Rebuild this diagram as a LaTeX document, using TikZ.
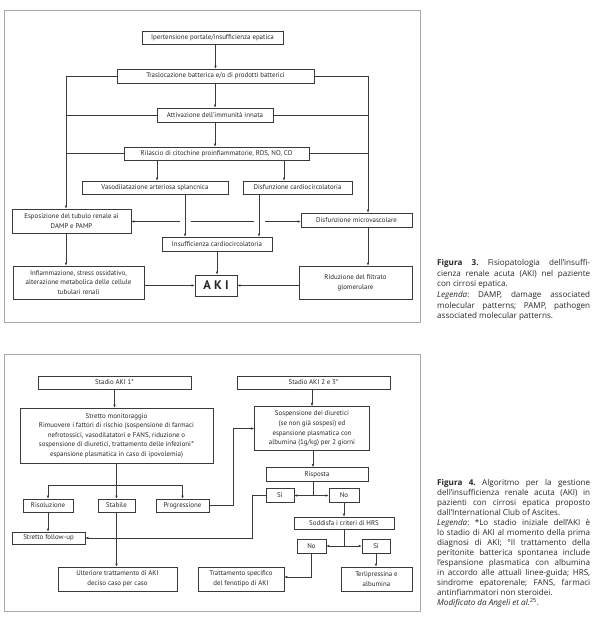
\documentclass[tikz,border=0pt]{standalone}
\usepackage{fontspec}
\setmainfont{PT Sans}
\newfontfamily\capfont{Open Sans}
\usetikzlibrary{arrows.meta}
\definecolor{linec}{HTML}{3A3A3A}
\definecolor{textc}{HTML}{262626}
\definecolor{framec}{HTML}{A8A8A8}
\frenchspacing
\newcommand\fsz{\fontsize{6.9}{9.6}\selectfont}
\newcommand\capsz{\capfont\fontsize{8.1}{10.7}\selectfont\frenchspacing}
\tikzset{
  bx/.style={draw=linec, line width=0.6pt, inner sep=0pt, align=center, font=\fsz, text=textc},
  ln/.style={draw=linec, line width=0.6pt},
  arr/.style={draw=linec, line width=0.6pt, -{Latex[length=3pt,width=2.6pt]}},
  arrb/.style={draw=linec, line width=0.6pt, {Latex[length=3pt,width=2.6pt]}-{Latex[length=3pt,width=2.6pt]}},
  frm/.style={draw=framec, line width=1pt},
  capt/.style={anchor=north west, inner sep=0pt, text width=153pt, align=justify, font=\capsz, text=textc}
}
\begin{document}
\begin{tikzpicture}[x=1pt,y=-1pt]
\useasboundingbox (0,0) rectangle (598,620);
% frames
\draw[frm] (4,11) rectangle (420,322);
\draw[frm] (4,354) rectangle (420,611);
% ---------------- Figure 3 ----------------
\node[bx, minimum width=141pt, minimum height=13pt] (ip) at (212.5,37.5) {Ipertensione portale/insufficienza epatica};
\node[bx, minimum width=197pt, minimum height=14pt] (tr) at (215.5,76) {Traslocazione batterica e/o di prodotti batterici};
\node[bx, minimum width=116pt, minimum height=14pt] (at) at (215,115) {Attivazione dell’immunità innata};
\node[bx, minimum width=185pt, minimum height=13pt] (ril) at (216.5,153.5) {Rilascio di citochine proinfiammatorie, ROS, NO, CO};
\node[bx, minimum width=146pt, minimum height=13pt] (vaso) at (155,187.5) {Vasodilatazione arteriosa splancnica};
\node[bx, minimum width=109pt, minimum height=13pt] (dc) at (297.5,187.5) {Disfunzione cardiocircolatoria};
\node[bx, minimum width=119pt, minimum height=24pt] (esp) at (71.5,221) {Esposizione del tubulo renale ai\\DAMP e PAMP};
\node[bx, minimum width=111pt, minimum height=14pt] (dm) at (356.5,220) {Disfunzione microvascolare};
\node[bx, minimum width=110pt, minimum height=14pt] (ins) at (217,244) {Insufficienza cardiocircolatoria};
\node[bx, line width=0.8pt, minimum width=42pt, minimum height=21pt, font=\fontsize{12.5}{12.5}\selectfont\bfseries] (aki) at (216,285.5) {A K I};
\node[bx, minimum width=131pt, minimum height=33pt] (inf) at (78.5,282.5) {Infiammazione, stress ossidativo,\\alterazione metabolica delle cellule\\tubulari renali};
\node[bx, minimum width=113pt, minimum height=33pt] (rid) at (355.5,282.5) {Riduzione del filtrato\\glomerulare};
\coordinate (L) at (66,0);
\coordinate (R) at (368,0);
\coordinate (V1) at (157,0);
\coordinate (V2) at (284,0);
\coordinate (V3) at (185,0);
\coordinate (V4) at (259,0);
\coordinate (H) at (0,221.5);
\draw[arr] (ip.south -| tr.north) -- (tr.north);
\draw[arr] (at.north |- tr.south) -- (at.north);
\draw[arr] (at.south) -- (at.south |- ril.north);
\draw[arr] (tr.west) -| (esp.north -| L);
\draw[ln] (at.west) -- (at.west -| L);
\draw[ln] (ril.west) -- (ril.west -| L);
\draw[arr] (tr.east) -| (dm.north -| R);
\draw[ln] (at.east) -- (at.east -| R);
\draw[ln] (ril.east) -- (ril.east -| R);
\draw[arr] (ril.south -| V1) -- (vaso.north -| V1);
\draw[arr] (ril.south -| V2) -- (dc.north -| V2);
\draw[arrb] (esp.east |- H) -- (dm.west |- H);
\fill[white] (179.5,218.5) rectangle (190.5,224.5);
\fill[white] (253.5,218.5) rectangle (264.5,224.5);
\draw[arr] (vaso.south -| V3) -- (ins.north -| V3);
\draw[arr] (dc.south -| V4) -- (ins.north -| V4);
\draw[arr] (ins.south) -- (ins.south |- aki.north);
\draw[arr] (esp.south -| L) -- (inf.north -| L);
\draw[arr] (dm.south -| R) -- (rid.north -| R);
\draw[arr] (inf.east |- aki.west) -- (aki.west);
\draw[arr] (rid.west |- aki.east) -- (aki.east);
% ---------------- Figure 4 ----------------
\node[bx, minimum width=153pt, minimum height=13pt] (s1) at (114.5,382.5) {Stadio AKI 1*};
\node[bx, minimum width=153pt, minimum height=13pt] (s2) at (313.5,382.5) {Stadio AKI 2 e 3*};
\node[bx, minimum width=193pt, minimum height=55pt] (sm) at (116.5,435.5) {Stretto monitoraggio\\Rimuovere i fattori di rischio (sospensione di farmaci\\nefrotossici, vasodilatatori e FANS, riduzione o\\sospensione di diuretici, trattamento delle infezioni°\\espansione plasmatica in caso di ipovolemia)};
\node[bx, minimum width=115pt, minimum height=44pt] (sos) at (312,428.5) {Sospensione dei diuretici\\(se non già sospesi) ed\\espansione plasmatica con\\albumina (1g/kg) per 2 giorni};
\node[bx, minimum width=102pt, minimum height=14pt] (risp) at (317,474.5) {Risposta};
\node[bx, minimum width=28pt, minimum height=14pt] (si) at (280,495.5) {Sì};
\node[bx, minimum width=30pt, minimum height=14pt] (no) at (344,495.5) {No};
\node[bx, minimum width=50pt, minimum height=13pt] (ris) at (48,505.5) {Risoluzione};
\node[bx, minimum width=37pt, minimum height=13pt] (stab) at (116.5,505.5) {Stabile};
\node[bx, minimum width=53pt, minimum height=13pt] (prog) at (182.5,505.5) {Progressione};
\node[bx, minimum width=73pt, minimum height=12pt] (fu) at (48.5,538) {Stretto follow-up};
\node[bx, minimum width=119pt, minimum height=24pt] (ult) at (117.5,579) {Ulteriore trattamento di AKI\\deciso caso per caso};
\node[bx, minimum width=100pt, minimum height=12pt] (sod) at (344,523) {Soddisfa i criteri di HRS};
\node[bx, minimum width=29pt, minimum height=14pt] (no2) at (311.5,546) {No};
\node[bx, minimum width=28pt, minimum height=14pt] (si2) at (376,546) {Sì};
\node[bx, minimum width=86pt, minimum height=24pt] (tratt) at (241,579) {Trattamento specifico\\del fenotipo di AKI};
\node[bx, minimum width=71pt, minimum height=24pt] (terl) at (376.5,579) {Terlipressina e\\albumina};
\coordinate (B1) at (0,485);
\coordinate (B2) at (0,495.5);
\coordinate (B3) at (0,546);
\coordinate (B4) at (0,577);
\coordinate (X1) at (233,0);
\coordinate (X2) at (252,0);
\coordinate (V5) at (313,0);
\draw[arr] (s1.south) -- (s1.south |- sm.north);
\draw[arr] (s2.south -| sos.north) -- (sos.north);
\draw[arr] (sos.south -| V5) -- (risp.north -| V5);
\draw[arr] (sm.south) -- (sm.south |- stab.north);
\draw[arr] (sm.south |- B1) -| (ris.north);
\draw[arr] (sm.south |- B1) -| (prog.north);
\draw[arr] (prog.east) -- (prog.east -| X1) |- (sos.west);
\draw[ln] (risp.south -| V5) -- (B2 -| V5);
\draw[arr] (B2 -| V5) -- (si.east);
\draw[arr] (B2 -| V5) -- (no.west);
\draw[arr] (si.west) -- (si.west -| X2) |- (fu.east);
\draw[arr] (ris.south) -- (ris.south |- fu.north);
\draw[arr] (stab.south) -- (stab.south |- ult.north);
\draw[arr] (no.south) -- (no.south |- sod.north);
\draw[ln] (sod.south) -- (sod.south |- B3);
\draw[arr] (sod.south |- B3) -- (no2.east);
\draw[arr] (sod.south |- B3) -- (si2.west);
\draw[arr] (no2.south) -- (no2.south |- B4) -- (tratt.east |- B4);
\draw[arr] (si2.south) -- (si2.south |- terl.north);
% ---------------- Captions ----------------
\node[capt] (cap3) at (437,259) {\textbf{Figura 3.} Fisiopatologia dell’insuffi-\linebreak cienza renale acuta (AKI) nel paziente\linebreak con cirrosi epatica.\\ \textit{Legenda}: DAMP, damage associated\linebreak molecular patterns; PAMP, pathogen\linebreak associated molecular patterns.};
\node[capt, font=\capfont\fontsize{8.1}{10}\selectfont\frenchspacing] (cap4) at (437,479) {\textbf{Figura 4.} Algoritmo per la gestione\linebreak dell’insufficienza renale acuta (AKI) in\linebreak pazienti con cirrosi epatica proposto\linebreak dall’International Club of Ascites.\\ \textit{Legenda}: *Lo stadio iniziale dell’AKI è\linebreak lo stadio di AKI al momento della prima\linebreak diagnosi di AKI; °Il trattamento della\linebreak peritonite batterica spontanea include\linebreak l’espansione plasmatica con albumina\linebreak in accordo alle attuali linee-guida; HRS,\linebreak sindrome epatorenale; FANS, farmaci\linebreak antinfiammatori non steroidei.\\ \textit{Modificato da Angeli et al.}\textsuperscript{25}.};
\end{tikzpicture}
\end{document}
